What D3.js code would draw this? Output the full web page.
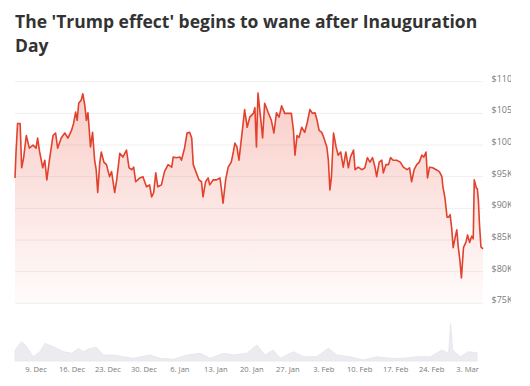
<!DOCTYPE html>
<html>
<head>
<meta charset="utf-8">
<script src="https://cdn.jsdelivr.net/npm/d3@7"></script>
<style>
  body { margin: 0; background: #fff; }
  svg { display: block; font-family: "Open Sans", sans-serif; }
</style>
</head>
<body>
<div id="chart"></div>
<script>
// Bitcoin price, days counted from 9 Dec 2024 (00:00 UTC)
const dayOffsets = [
  -4.0, -3.8, -3.5, -3.0, -2.7, -2.3, -1.8, -1.2, -0.5, 0.1, 0.4, 0.8, 1.4, 1.8, 2.2, 2.7,
  3.4, 3.9, 4.3, 5.0, 5.7, 6.3, 7.0, 7.4, 7.8, 8.1, 8.4, 8.9, 9.2, 9.6, 9.9, 10.2,
  10.7, 11.1, 11.5, 11.8, 12.1, 12.5, 12.8, 13.3, 13.8, 14.4, 14.8, 15.4, 15.8, 16.4, 17.0, 17.7,
  18.2, 18.7, 19.1, 19.5, 20.3, 20.9, 21.6, 22.2, 22.6, 23.0, 23.4, 23.8, 24.5, 25.1, 25.8, 26.5,
  26.8, 27.4, 28.1, 28.4, 29.0, 29.5, 30.0, 30.4, 30.7, 31.3, 31.8, 32.3, 32.6, 33.1, 33.6, 33.9,
  34.6, 35.2, 35.9, 36.2, 36.5, 37.0, 37.5, 38.1, 38.5, 38.8, 39.2, 39.6, 40.1, 40.7, 41.2, 41.7,
  42.4, 42.7, 43.0, 43.3, 43.8, 44.2, 44.6, 45.3, 45.9, 46.4, 46.9, 47.4, 47.9, 48.5, 49.2, 49.8,
  50.2, 50.5, 50.9, 51.3, 51.8, 52.4, 52.9, 53.4, 53.9, 54.4, 54.8, 55.2, 55.7, 56.1, 56.7, 57.0,
  57.3, 57.6, 58.0, 58.5, 58.9, 59.4, 59.9, 60.4, 60.9, 61.3, 61.9, 62.2, 62.8, 63.5, 64.1, 64.6,
  65.1, 65.6, 66.1, 66.4, 66.9, 67.4, 67.7, 68.2, 68.7, 69.1, 69.6, 70.3, 71.0, 71.6, 72.3, 72.8,
  73.2, 73.7, 74.2, 74.7, 75.2, 75.6, 76.0, 76.3, 76.7, 77.3, 78.0, 78.6, 79.1, 79.3, 79.7, 80.1,
  80.4, 80.7, 81.0, 81.3, 81.7, 82.0, 82.3, 82.6, 82.9, 83.3, 83.8, 84.1, 84.5, 84.9, 85.2, 85.4,
  85.8, 86.0, 86.2, 86.4, 86.7, 87.1
];
// price in thousands of USD
const prices = [
  94.8, 98.9, 103.4, 103.4, 96.4, 98.1, 101.5, 99.5, 100.0, 99.5, 101.1, 98.9, 96.4, 97.6, 94.5, 97.6,
  101.5, 101.9, 99.5, 101.1, 101.9, 101.1, 102.3, 103.4, 105.2, 103.9, 106.6, 107.1, 108.1, 106.2, 103.9, 105.1,
  99.7, 102.0, 97.6, 96.1, 92.5, 97.2, 98.9, 97.3, 96.9, 95.0, 95.8, 92.5, 94.5, 98.7, 98.1, 99.2,
  96.4, 96.1, 96.5, 94.2, 94.8, 95.0, 93.4, 93.7, 91.8, 92.5, 95.6, 93.4, 93.7, 95.8, 96.9, 96.5,
  98.1, 98.0, 98.1, 97.6, 99.5, 101.9, 102.0, 101.1, 96.9, 95.6, 94.5, 94.2, 91.8, 94.2, 94.8, 93.7,
  94.5, 94.5, 94.8, 92.9, 90.8, 94.5, 96.5, 97.3, 98.9, 100.3, 99.7, 97.6, 101.2, 105.6, 102.8, 104.4,
  105.0, 105.9, 99.7, 108.2, 104.4, 101.1, 106.6, 105.1, 103.9, 101.9, 105.1, 104.4, 106.2, 105.0, 105.0, 105.0,
  102.3, 98.4, 101.5, 101.2, 102.8, 102.0, 103.6, 105.6, 105.0, 105.1, 103.9, 102.3, 102.0, 101.2, 99.7, 97.6,
  92.9, 95.0, 101.9, 99.7, 98.4, 98.9, 96.5, 98.9, 96.4, 98.1, 99.2, 96.1, 96.5, 96.1, 96.4, 98.0,
  97.3, 98.0, 96.4, 95.0, 97.3, 97.6, 95.6, 96.9, 96.9, 98.0, 97.6, 97.6, 97.3, 96.5, 96.1, 96.4,
  94.2, 96.1, 96.9, 97.3, 98.4, 98.1, 98.9, 94.8, 96.5, 96.4, 96.1, 95.8, 95.0, 93.4, 91.6, 88.6,
  88.6, 89.0, 86.9, 83.8, 85.5, 86.6, 83.8, 81.8, 79.0, 83.8, 84.7, 85.8, 84.6, 85.6, 85.2, 94.5,
  93.2, 93.1, 91.3, 87.7, 83.9, 83.6
];

// navigator (trading volume, relative units)
const volDays = [
  -4.0, -2.7, -1.7, -0.4, 0.9, 1.9, 3.6, 5.5, 7.2, 8.5, 9.5, 10.8, 12.1, 13.4, 15.4, 17.4,
  19.3, 22.6, 24.6, 27.2, 29.9, 32.5, 34.5, 37.1, 39.1, 41.7, 43.7, 45.3, 46.9, 48.3, 50.9, 52.9,
  55.5, 57.8, 59.5, 62.1, 64.7, 67.3, 70.0, 72.6, 75.2, 77.9, 80.2, 81.5, 81.9, 82.3, 83.8, 85.4, 87.1
];
const volumes = [
  11, 19.3, 14.3, 4.3, 9.3, 17.7, 14.3, 9.3, 7.7, 12.7, 9.3, 12.7, 13.7, 6, 6, 4.3,
  2.7, 6, 2.7, 1.7, 6, 7.7, 2.7, 7.7, 6, 7.7, 16, 6, 11, 2.7, 9.3, 4.3,
  4.3, 12.7, 6, 4.3, 1, 4.3, 2.7, 2.7, 4.3, 4.3, 11, 7.7, 37.7, 11, 4.3, 9.3, 8.3
];

const yTicks = [75, 80, 85, 90, 95, 100, 105, 110];
const xTickDays = [0, 7, 14, 21, 28, 35, 42, 49, 56, 63, 70, 77, 84];

const titleLines = ["The 'Trump effect' begins to wane after Inauguration", "Day"];

const base = Date.UTC(2024, 11, 9);
const toDate = d => new Date(base + d * 864e5);

const priceData = dayOffsets.map((d, i) => ({date: toDate(d), value: prices[i]}));
const volData = volDays.map((d, i) => ({date: toDate(d), value: volumes[i]}));

const width = 530, height = 386;

const svg = d3.select("#chart").append("svg")
    .attr("width", width)
    .attr("height", height);

// title
svg.append("g").selectAll("text")
    .data(titleLines)
    .join("text")
    .attr("x", 15)
    .attr("y", (d, i) => 27.5 + i * 24.3)
    .attr("font-size", 17.5)
    .attr("font-weight", 700)
    .attr("fill", "#333")
    .text(d => d);

// scales
const x = d3.scaleUtc()
    .domain(d3.extent(priceData, d => d.date))
    .range([15, 483]);

const y = d3.scaleLinear()
    .domain([75, 110])
    .range([303.3, 81.7]);

const x2 = d3.scaleUtc()
    .domain(x.domain())
    .range([15, 477]);

const y2 = d3.scaleLinear()
    .domain([0, 40])
    .range([361, 321]);

// gradient
const defs = svg.append("defs");
const grad = defs.append("linearGradient")
    .attr("id", "fillGrad")
    .attr("x1", 0).attr("y1", 0)
    .attr("x2", 0).attr("y2", 1);
grad.append("stop").attr("offset", "0%").attr("stop-color", "#e8412c").attr("stop-opacity", 0.26);
grad.append("stop").attr("offset", "100%").attr("stop-color", "#e8412c").attr("stop-opacity", 0.02);

// right labels are cut off by the frame in the original
defs.append("clipPath").attr("id", "labelClip")
    .append("rect").attr("x", 0).attr("y", 0).attr("width", 511).attr("height", height);

// grid lines
svg.append("g").selectAll("line")
    .data(yTicks)
    .join("line")
    .attr("x1", 15).attr("x2", 483)
    .attr("y1", d => y(d)).attr("y2", d => y(d))
    .attr("stroke", "#efefef")
    .attr("stroke-width", 1);

// y labels (right)
svg.append("g")
    .attr("clip-path", "url(#labelClip)")
    .selectAll("text")
    .data(yTicks)
    .join("text")
    .attr("x", 491.5)
    .attr("y", d => y(d))
    .attr("font-size", 9)
    .attr("fill", "#7a7a7a")
    .text(d => "$" + d + "K");

// area + line
const area = d3.area()
    .x(d => x(d.date))
    .y0(y(75))
    .y1(d => y(d.value));

const line = d3.line()
    .x(d => x(d.date))
    .y(d => y(d.value));

svg.append("path")
    .datum(priceData)
    .attr("fill", "url(#fillGrad)")
    .attr("d", area);

svg.append("path")
    .datum(priceData)
    .attr("fill", "none")
    .attr("stroke", "#e2412d")
    .attr("stroke-width", 1.6)
    .attr("stroke-linejoin", "round")
    .attr("d", line);

// navigator
const volArea = d3.area()
    .x(d => x2(d.date))
    .y0(y2(0))
    .y1(d => y2(d.value));

svg.append("path")
    .datum(volData)
    .attr("fill", "#ececf0")
    .attr("stroke", "#e4e4ea")
    .attr("stroke-width", 0.8)
    .attr("d", volArea);

// x axis
const xAxis = d3.axisBottom(x)
    .tickValues(xTickDays.map(toDate))
    .tickFormat(d3.utcFormat("%-d. %b"))
    .tickSize(0)
    .tickPadding(3);

const gx = svg.append("g")
    .attr("transform", "translate(0,364)")
    .call(xAxis);
gx.select(".domain").remove();
gx.selectAll("text")
    .attr("font-family", "Open Sans, sans-serif")
    .attr("font-size", 7.6)
    .attr("fill", "#7a7a7a");
</script>
</body>
</html>
